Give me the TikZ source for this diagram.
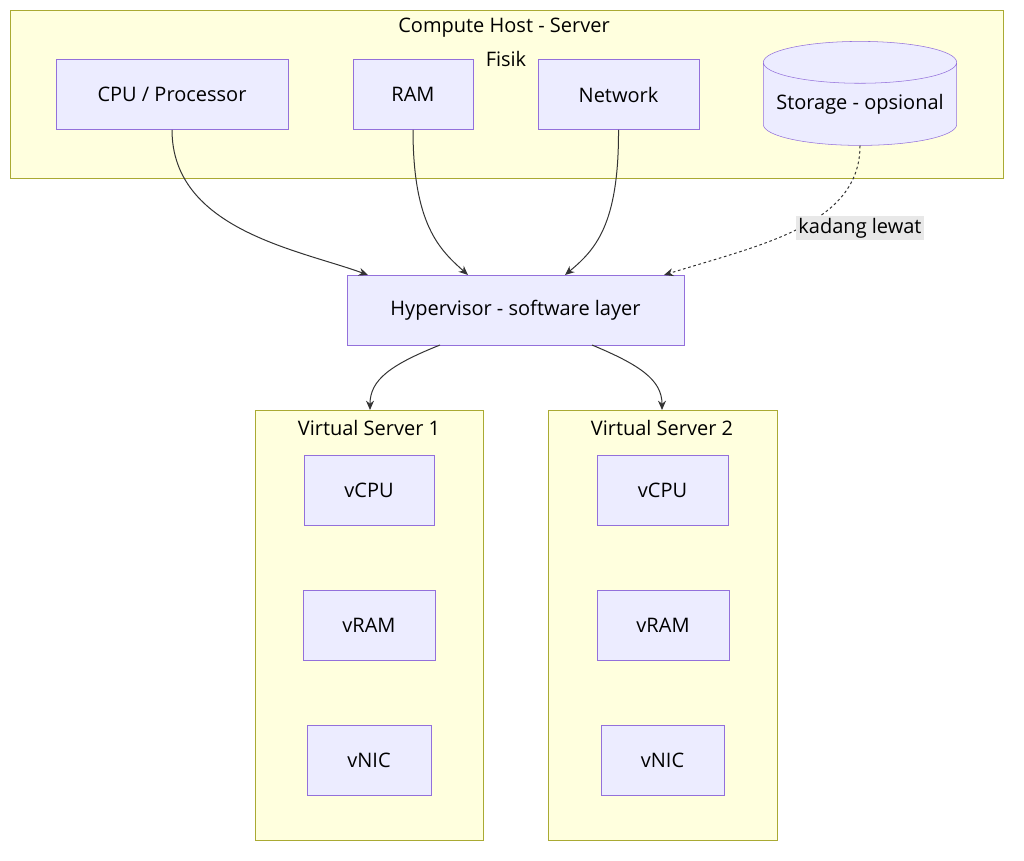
\documentclass[tikz,border=0pt]{standalone}
\usepackage{fontspec}
\setmainfont{Open Sans}
\usetikzlibrary{shapes.geometric,arrows.meta}
\definecolor{nodefill}{HTML}{ECECFF}
\definecolor{nodeline}{HTML}{9370DB}
\definecolor{clusterfill}{HTML}{FFFFDE}
\definecolor{clusterline}{HTML}{AAAA33}
\definecolor{edgecol}{HTML}{333333}
\tikzset{
  box/.style={draw=nodeline,fill=nodefill,inner sep=0pt,font=\fontsize{15}{18}\selectfont},
  cluster/.style={draw=clusterline,fill=clusterfill},
  link/.style={draw=edgecol,line width=0.75pt,-{Stealth[length=7pt,width=6pt]}},
}
\begin{document}
\begin{tikzpicture}[x=0.75pt,y=-0.75pt]
\useasboundingbox (0,0) rectangle (1024,860);
% host cluster
\draw[cluster] (10,10) rectangle (1003,178);
\node[font=\fontsize{15}{18}\selectfont] at (504,28) {Compute Host - Server};
\node[font=\fontsize{15}{18}\selectfont] at (506,59) {Fisik};
\node[box,minimum width=174pt,minimum height=52.5pt] (cpu) at (172,94.5) {CPU / Processor};
\node[box,minimum width=90pt,minimum height=52.5pt] (ram) at (413,94.5) {RAM};
\node[box,minimum width=121pt,minimum height=52.5pt] (net) at (618.5,94.5) {Network};
\node[box,cylinder,shape border rotate=90,aspect=0.25,minimum width=145pt,minimum height=78pt] (sto) at (860,104) {Storage - opsional};
% hypervisor
\node[box,minimum width=253pt,minimum height=52.5pt] (hyp) at (515.5,310) {Hypervisor - software layer};
% virtual servers
\draw[cluster] (255,410) rectangle (483,840);
\node[font=\fontsize{15}{18}\selectfont] at (369,428) {Virtual Server 1};
\node[box,minimum width=97.5pt,minimum height=52.5pt] (cpua) at (369,490.5) {vCPU};
\node[box,minimum width=99pt,minimum height=52.5pt] (rama) at (369,625) {vRAM};
\node[box,minimum width=93pt,minimum height=52.5pt] (nica) at (369,760) {vNIC};
\draw[cluster] (548,410) rectangle (777,840);
\node[font=\fontsize{15}{18}\selectfont] at (662,428) {Virtual Server 2};
\node[box,minimum width=98pt,minimum height=52.5pt] (cpub) at (662.5,490.5) {vCPU};
\node[box,minimum width=99pt,minimum height=52.5pt] (ramb) at (663,625) {vRAM};
\node[box,minimum width=92pt,minimum height=52.5pt] (nicb) at (662.5,760) {vNIC};
% connectors
\draw[link] (cpu.south) .. controls (172,230) and (300,250) .. (368,275);
\draw[link] (ram.south) .. controls (413,225) and (440,250) .. (468,275);
\draw[link] (net.south) .. controls (619,225) and (595,250) .. (565,275);
\draw[link,dash pattern=on 2pt off 2pt] (sto.south) .. controls (860,225) and (760,245) .. (664,275);
\node[fill=gray!18,inner sep=1.5pt,font=\fontsize{15}{18}\selectfont] (lbl) at (860,228) {kadang lewat};
\draw[link] (440,345) .. controls (390,365) and (370,380) .. (370,410);
\draw[link] (592,345) .. controls (640,365) and (662,380) .. (662,410);
\end{tikzpicture}
\end{document}
